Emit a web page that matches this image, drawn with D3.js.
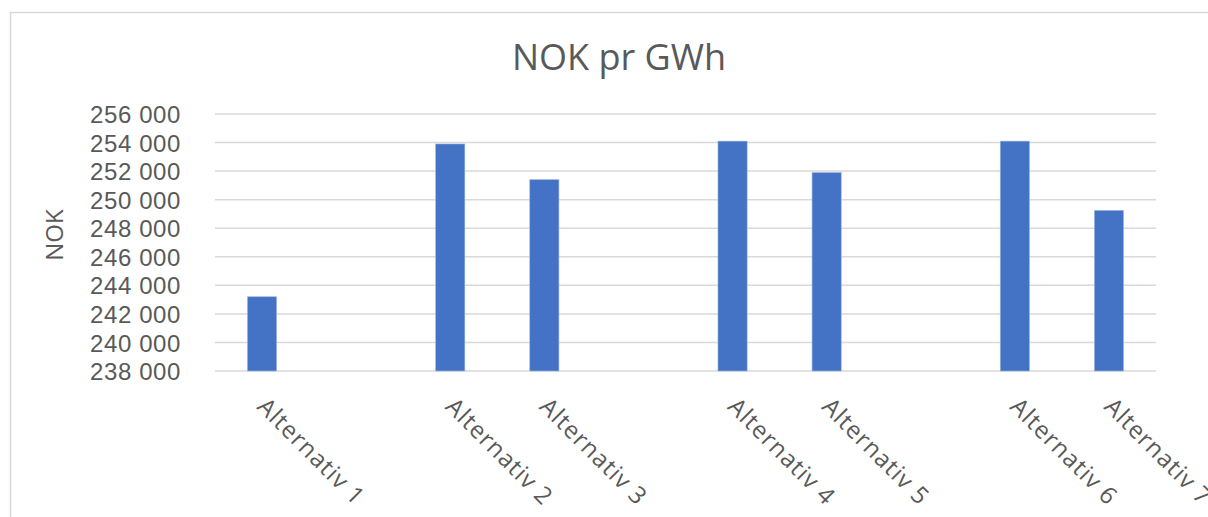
<!DOCTYPE html>
<html>
<head>
<meta charset="utf-8">
<script src="https://cdn.jsdelivr.net/npm/d3@7"></script>
<style>
  html, body { margin: 0; padding: 0; background: #fff; }
  svg { display: block; }
  text { font-family: "Open Sans", "Noto Sans", sans-serif; fill: #595959; }
</style>
</head>
<body>
<svg id="chart" width="1208" height="517"></svg>
<script>
// Categories (empty strings are spacer slots between groups)
const categories = ["Alternativ 1", "", "Alternativ 2", "Alternativ 3", "", "Alternativ 4", "Alternativ 5", "", "Alternativ 6", "Alternativ 7"];
// NOK per GWh for each slot (null = no bar)
const values = [243200, null, 253900, 251400, null, 254100, 251900, null, 254100, 249250];
// Y-axis ticks
const yTicks = [238000, 240000, 242000, 244000, 246000, 248000, 250000, 252000, 254000, 256000];
const titleText = "NOK pr GWh";
const yAxisTitle = "NOK";

const svg = d3.select("#chart");
const W = 1208, H = 517;

// chart area frame
svg.append("rect")
  .attr("x", 10.5).attr("y", 12.5)
  .attr("width", W + 20).attr("height", H + 20)
  .attr("fill", "#fff").attr("stroke", "#d9d9d9").attr("stroke-width", 1.5);

const plot = { left: 215, right: 1156, top: 114, bottom: 371 };

const x = d3.scaleBand()
  .domain(d3.range(categories.length))
  .range([plot.left, plot.right])
  .paddingInner(0.69)
  .paddingOuter(0.345);

const y = d3.scaleLinear()
  .domain([238000, 256000])
  .range([plot.bottom, plot.top]);

const fmt = v => d3.format(",")(v).replace(/,/g, " ");

// gridlines
svg.append("g")
  .selectAll("line")
  .data(yTicks)
  .join("line")
  .attr("x1", plot.left).attr("x2", plot.right)
  .attr("y1", d => y(d)).attr("y2", d => y(d))
  .attr("stroke", "#d9d9d9").attr("stroke-width", 1.5);

// y tick labels via d3 axis
const yAxis = svg.append("g")
  .attr("transform", `translate(${plot.left - 34},0)`)
  .call(d3.axisLeft(y).tickValues(yTicks).tickFormat(fmt).tickSize(0).tickPadding(0));
yAxis.select(".domain").remove();
yAxis.attr("font-family", null).attr("font-size", null);
yAxis.selectAll("text")
  .style("font-family", "\"Liberation Sans\", Arial, sans-serif")
  .style("font-size", "24px")
  .attr("letter-spacing", 0.6)
  .attr("fill", "#595959")
  .attr("dy", "0.36em");

// bars
svg.append("g")
  .selectAll("rect")
  .data(values.map((v, i) => ({ i, v })).filter(d => d.v != null))
  .join("rect")
  .attr("x", d => x(d.i))
  .attr("width", x.bandwidth())
  .attr("y", d => y(d.v))
  .attr("height", d => y(238000) - y(d.v))
  .attr("fill", "#4472c4")
  .attr("stroke", "#9db5e0")
  .attr("stroke-width", 0.6);

// x category labels (rotated 45°)
const xAxis = svg.append("g")
  .attr("transform", `translate(0,${plot.bottom})`)
  .call(d3.axisBottom(x).tickFormat(i => categories[i]).tickSize(0).tickPadding(0));
xAxis.select(".domain").remove();
xAxis.selectAll("text")
  .attr("font-family", "\"Open Sans\", sans-serif")
  .attr("font-size", 24)
  .attr("letter-spacing", 1)
  .attr("fill", "#595959")
  .attr("text-anchor", "start")
  .attr("dy", 0)
  .attr("y", 0)
  .attr("transform", "translate(-6,37) rotate(45)");

// title
svg.append("text")
  .attr("x", 619).attr("y", 70)
  .attr("text-anchor", "middle")
  .attr("font-size", 36)
  .text(titleText);

// y-axis title
svg.append("text")
  .attr("transform", "translate(63,235) rotate(-90)")
  .attr("text-anchor", "middle")
  .attr("font-size", 24)
  .text(yAxisTitle);
</script>
</body>
</html>
